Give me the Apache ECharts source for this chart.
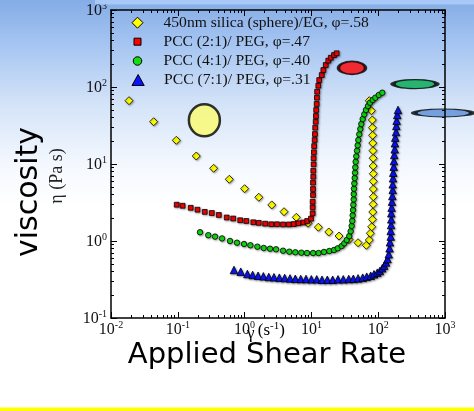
<!DOCTYPE html>
<html><head><meta charset="utf-8">
<script src="https://cdn.jsdelivr.net/npm/echarts@6/dist/echarts.min.js"></script>
<style>html,body{margin:0;padding:0;background:#fff}#c{width:474px;height:411px}</style>
</head><body><div id="c"></div>
<script>
// ---- tick values ----
const xTickValues = [0.01, 0.1, 1, 10, 100, 1000];
const yTickValues = [0.1, 1, 10, 100, 1000];

// ---- series names ----
const seriesNames = [
  '450nm silica (sphere)/EG, \u03C6=.58',
  'PCC (2:1)/ PEG, \u03C6=.47',
  'PCC (4:1)/ PEG, \u03C6=.40',
  'PCC (7:1)/ PEG, \u03C6=.31'
];

// ---- data: shear rate (1/s) and viscosity (Pa s) ----
const silicaRate = [0.0186, 0.0435, 0.095, 0.189, 0.344, 0.59, 1.0, 1.63, 2.55, 3.89, 5.94, 8.9, 12.7, 18.2, 25.9, 36.6, 49.9, 66.4, 73.6, 76.2, 80, 82, 83, 84, 84.5, 84.5, 84.5, 84.5, 84, 84, 83.5, 83, 82.5, 82, 81.6, 79, 73.6];
const silicaVisc = [66.4, 35.4, 20.3, 12.7, 8.8, 6.33, 4.78, 3.70, 2.94, 2.40, 2.03, 1.70, 1.51, 1.31, 1.16, 1.045, 0.95, 0.88, 1.03, 1.26, 1.53, 1.91, 2.38, 3.0, 3.76, 4.73, 5.96, 7.48, 9.42, 11.9, 14.9, 18.7, 23.6, 29.6, 37.3, 49.2, 66.4];

const pcc21Rate = [0.0963, 0.118, 0.156, 0.197, 0.253, 0.323, 0.411, 0.54, 0.675, 0.86, 1.06, 1.35, 1.63, 2.03, 2.50, 3.05, 3.76, 4.59, 5.45, 6.41, 7.57, 8.65, 9.86, 10.45, 10.45, 10.45, 10.57, 10.57, 10.57, 10.67, 10.67, 10.8, 10.8, 10.9, 11.0, 11.2, 11.3, 11.4, 11.6, 11.7, 11.8, 12.0, 12.1, 12.2, 12.7, 13.1, 14.3, 15.1, 16.4, 17.9, 19.5, 21.8, 23.9];
const pcc21Visc = [2.96, 2.87, 2.70, 2.55, 2.39, 2.31, 2.18, 2.02, 1.96, 1.86, 1.82, 1.75, 1.72, 1.68, 1.65, 1.65, 1.64, 1.64, 1.66, 1.70, 1.74, 1.82, 1.95, 2.29, 2.74, 3.24, 3.96, 4.73, 5.72, 6.84, 8.18, 9.9, 11.9, 14.2, 17.1, 20.5, 24.5, 29.6, 35.4, 42.0, 50.3, 60.2, 72.6, 86.9, 104, 123, 143, 166, 193, 220, 240, 260, 274];

const pcc41Rate = [0.215, 0.286, 0.361, 0.459, 0.604, 0.769, 0.98, 1.22, 1.55, 1.93, 2.40, 2.95, 3.76, 4.67, 5.74, 7.06, 8.59, 10.6, 12.8, 15.4, 18.5, 21.8, 24.8, 28.4, 31.1, 33.8, 36.9, 38.7, 40.1, 40.9, 41.5, 42.0, 42.4, 43.0, 43.0, 43.4, 43.9, 44.5, 45.0, 45.4, 46.0, 47.0, 48.2, 49.3, 50.4, 52.1, 54.0, 55.9, 58.6, 61.9, 65.6, 70.3, 75.4, 82.8, 90.6, 102, 115];
const pcc41Visc = [1.30, 1.19, 1.14, 1.08, 1.0, 0.95, 0.914, 0.88, 0.843, 0.811, 0.794, 0.78, 0.748, 0.726, 0.713, 0.705, 0.698, 0.698, 0.698, 0.72, 0.741, 0.764, 0.804, 0.861, 0.933, 1.03, 1.16, 1.34, 1.57, 1.83, 2.16, 2.53, 2.96, 3.48, 4.08, 4.78, 5.61, 6.58, 7.71, 9.06, 10.7, 12.6, 14.9, 17.5, 20.5, 24.3, 28.5, 33.1, 38.4, 44.2, 50.3, 56.6, 62.5, 67.8, 72.6, 78.7, 84.3];

const pcc71Rate = [0.693, 0.875, 1.10, 1.32, 1.59, 1.91, 2.30, 2.75, 3.31, 3.98, 4.78, 5.74, 6.92, 8.30, 9.97, 12.0, 14.4, 17.3, 20.8, 25.0, 30.0, 36.2, 42.4, 49.9, 58.6, 67.3, 77.2, 86.5, 97.0, 106, 115, 123, 131, 138, 144, 148, 150, 154, 154, 156, 157, 157, 159, 161, 163, 165, 165, 167, 168, 171, 172, 174, 177, 178, 180, 185, 187, 189, 193, 198];
const pcc71Visc = [0.42, 0.399, 0.373, 0.362, 0.354, 0.348, 0.341, 0.338, 0.334, 0.331, 0.327, 0.323, 0.321, 0.321, 0.318, 0.318, 0.314, 0.314, 0.314, 0.318, 0.318, 0.321, 0.323, 0.327, 0.334, 0.344, 0.354, 0.37, 0.388, 0.408, 0.442, 0.478, 0.526, 0.583, 0.672, 0.804, 0.962, 1.14, 1.35, 1.61, 1.91, 2.29, 2.71, 3.24, 3.84, 4.60, 5.45, 6.52, 7.71, 9.22, 10.9, 13.1, 15.5, 18.6, 22.0, 26.0, 31.2, 36.5, 43.3, 50.3];

// ---- callout ellipses (data-space centres) ----
const calloutRate = [0.25, 40.5, 355, 940];
const calloutVisc = [37, 177, 109, 46];
const calloutColors = ['#fbfb6e', '#ff0000', '#00a94f', '#5a8fd6'];
const calloutSizes = [[31, 32], [27, 13], [44, 9], [58, 8]];

const zip = (a, b) => a.map((v, i) => [v, b[i]]);

const SERIF = 'Liberation Serif';
const labelRich = {
  b: { fontSize: 16, fontFamily: SERIF, color: '#111', verticalAlign: 'bottom' },
  s: { fontSize: 10, fontFamily: SERIF, color: '#111', verticalAlign: 'top', padding: [0, 0, 8, 0] }
};
const fmt = v => '{b|10}{s|' + Math.round(Math.log10(v)) + '}';

function mkAxis(kind, opts) {
  const isX = kind === 'x';
  const base = {
    type: 'log', logBase: 10,
    min: isX ? 0.01 : 0.1, max: 1000,
    position: opts.position,
    splitLine: { show: false },
    axisLine: { show: true, lineStyle: { color: '#000', width: 1.5 } },
    axisTick: { show: true, inside: true, length: 6, lineStyle: { color: '#000', width: 1 } },
    minorTick: { show: true, splitNumber: 9, length: 3, lineStyle: { color: '#000', width: 1 } },
    axisLabel: { show: false },
    z: 10
  };
  if (opts.labels) {
    base.axisLabel = { show: true, customValues: isX ? xTickValues : yTickValues,
      formatter: fmt, rich: labelRich, margin: isX ? 2 : 4 };
  }
  return base;
}

const markerShadow = { shadowBlur: 2, shadowColor: 'rgba(0,0,0,0.35)', shadowOffsetX: 1, shadowOffsetY: 1 };

const seriesStyles = [
  { symbol: 'diamond', size: 8, color: '#ffff00' },
  { symbol: 'rect', size: 4.8, color: '#ff0000' },
  { symbol: 'circle', size: 5.5, color: '#11dd11' },
  { symbol: 'triangle', size: 7.5, color: '#0a14ff' }
];
const seriesData = [zip(silicaRate, silicaVisc), zip(pcc21Rate, pcc21Visc), zip(pcc41Rate, pcc41Visc), zip(pcc71Rate, pcc71Visc)];

const legendIcons = ['path://M5,0L10,5L5,10L0,5Z', 'path://M0,0H10V10H0Z', 'circle', 'path://M5,0L10,9L0,9Z'];
const legendIconSizes = [11, 7, 8.5, 11];
const legendCenters = [22.7, 41.7, 61, 80];

const chart = echarts.init(document.getElementById('c'), null, { renderer: 'canvas' });
chart.setOption({
  animation: false,
  backgroundColor: 'transparent',
  grid: { left: 111, top: 10, width: 334, height: 308, containLabel: false, outerBoundsMode: 'none' },
  xAxis: [
    mkAxis('x', { position: 'bottom', labels: true }),
    mkAxis('x', { position: 'top' })
  ],
  yAxis: [
    mkAxis('y', { position: 'left', labels: true }),
    mkAxis('y', { position: 'right' })
  ],
  legend: seriesNames.map((n, i) => ({
    data: [{ name: n, icon: legendIcons[i] }],
    left: 137 - legendIconSizes[i] / 2, top: legendCenters[i] - 8, padding: 0,
    itemWidth: 42, itemHeight: legendIconSizes[i],
    selectedMode: false,
    textStyle: { fontFamily: SERIF, fontSize: 15.6, color: '#111', lineHeight: 16 },
    itemStyle: { color: seriesStyles[i].color, borderColor: '#000', borderWidth: 1 }
  })),
  series: seriesData.map((d, i) => ({
    type: 'scatter', name: seriesNames[i], data: d,
    symbol: seriesStyles[i].symbol, symbolSize: seriesStyles[i].size,
    itemStyle: Object.assign({ color: seriesStyles[i].color, borderColor: '#000', borderWidth: 0.8, opacity: 1 }, markerShadow),
    z: 3 + i
  })).concat([{
    type: 'scatter', name: 'callouts', clip: false, silent: true, z: 8,
    data: calloutRate.map((x, i) => ({
      value: [x, calloutVisc[i]], symbolSize: calloutSizes[i],
      itemStyle: { color: calloutColors[i], borderColor: '#000', borderWidth: 2.5 }
    })),
    symbol: 'circle'
  }]),
  graphic: [
    { type: 'rect', z: -100, shape: { x: 0, y: 0, width: 474, height: 411 },
      style: { fill: new echarts.graphic.LinearGradient(0, 0, 0, 1, [
        { offset: 0, color: '#85ace6' },
        { offset: 0.1, color: '#a3c3f1' },
        { offset: 0.25, color: '#d3e3f8' },
        { offset: 0.4, color: '#f4f8fe' },
        { offset: 0.5, color: '#ffffff' },
        { offset: 1, color: '#ffffff' }
      ]) } },
    { type: 'rect', z: 100, shape: { x: 95, y: 0, width: 379, height: 4.5 }, style: { fill: '#a8c9f7' } },
    { type: 'rect', z: 100, shape: { x: 0, y: 407.5, width: 474, height: 3.5 }, style: { fill: '#ffff00' } },
    { type: 'text', z: 100, x: 29, y: 192, rotation: Math.PI / 2,
      style: { text: 'viscosity', font: '30px "DejaVu Sans"', fill: '#000', align: 'center', verticalAlign: 'middle' } },
    { type: 'text', z: 100, x: 57, y: 176, rotation: Math.PI / 2,
      style: { text: '\u03B7 (Pa s)', font: '18px "Liberation Serif"', fill: '#222', align: 'center', verticalAlign: 'middle' } },
    { type: 'text', z: 100, x: 267, y: 355,
      style: { text: 'Applied Shear Rate', font: '29px "DejaVu Sans"', fill: '#000', align: 'center', verticalAlign: 'middle' } },
    { type: 'text', z: 101, x: 247, y: 330,
      style: { text: '{g|\u03B3} {n|(s}{s|-1}{n|)}', align: 'left', verticalAlign: 'middle',
        rich: {
          g: { fontFamily: SERIF, fontSize: 17, color: '#222', verticalAlign: 'bottom', padding: [0, 0, -3, 0] },
          n: { fontFamily: SERIF, fontSize: 17, color: '#222', verticalAlign: 'bottom' },
          s: { fontFamily: SERIF, fontSize: 11, color: '#222', verticalAlign: 'top', padding: [0, 0, 8, 0] }
        } } }
  ]
});
</script>
</body></html>
